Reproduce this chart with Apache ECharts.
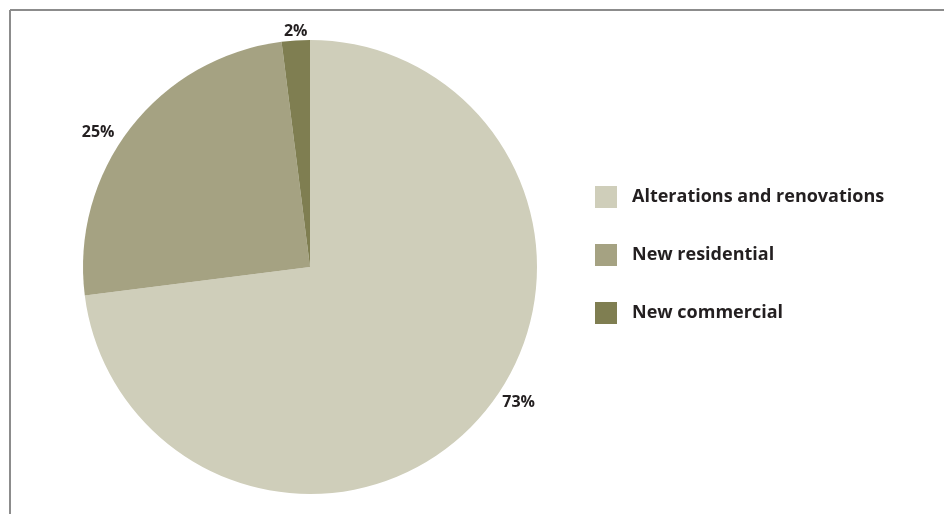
<!DOCTYPE html>
<html>
<head>
<meta charset="utf-8">
<script src="https://cdn.jsdelivr.net/npm/echarts@6/dist/echarts.min.js"></script>
<style>html,body{margin:0;padding:0;background:#fff;}#c{width:944px;height:514px;}</style>
</head>
<body>
<div id="c"></div>
<script>
const categories = ['Alterations and renovations', 'New residential', 'New commercial'];
const values = [73, 25, 2];
const colors = ['#cfceba', '#a5a282', '#7f7e51'];

const labelNudge = [[14, -17], [-8, 7], [17, -5]];

const chart = echarts.init(document.getElementById('c'));
chart.setOption({
  animation: false,
  textStyle: { fontFamily: 'Open Sans' },
  graphic: [
    { type: 'line', shape: { x1: 10, y1: 10, x2: 944, y2: 10 }, style: { stroke: '#8c8c8c', lineWidth: 2 } },
    { type: 'line', shape: { x1: 10, y1: 10, x2: 10, y2: 514 }, style: { stroke: '#8c8c8c', lineWidth: 2 } }
  ],
  legend: {
    orient: 'vertical',
    left: 590,
    top: 181,
    itemWidth: 22,
    itemHeight: 22,
    itemGap: 36,
    icon: 'rect',
    textStyle: { fontFamily: 'Open Sans', fontWeight: 'bold', fontSize: 18, color: '#231f20', padding: [0, 0, 0, 10] },
    data: categories
  },
  series: [{
    type: 'pie',
    center: [310, 267],
    radius: 227,
    startAngle: 90,
    clockwise: true,
    itemStyle: { borderWidth: 0 },
    label: {
      show: true,
      position: 'outside',
      formatter: '{c}%',
      fontFamily: 'Open Sans',
      fontWeight: 'bold',
      fontSize: 16,
      color: '#231f20'
    },
    labelLine: { show: false, length: 4, length2: 0 },
    labelLayout: function (p) {
      const n = labelNudge[p.dataIndex];
      return { dx: n[0], dy: n[1] };
    },
    emphasis: { disabled: true },
    data: categories.map((n, i) => ({ name: n, value: values[i], itemStyle: { color: colors[i] } }))
  }]
});
</script>
</body>
</html>
